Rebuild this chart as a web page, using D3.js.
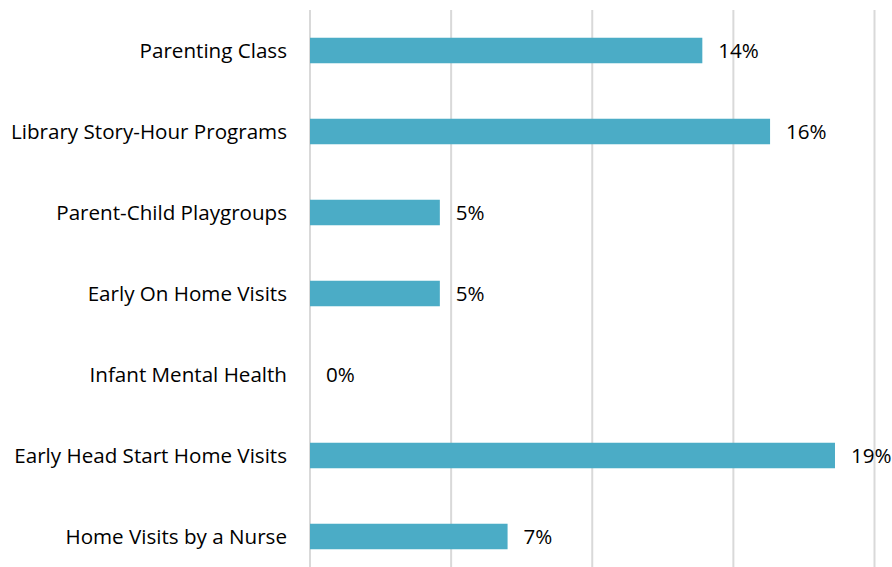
<!DOCTYPE html>
<html>
<head>
<meta charset="utf-8">
<script src="https://cdn.jsdelivr.net/npm/d3@7"></script>
<style>
  body { margin: 0; background: #fff; }
  text { font-family: "Open Sans", Lato, sans-serif; fill: #000; }
</style>
</head>
<body>
<div class="chart"></div>
<script>
const categories = [
    "Parenting Class",
    "Library Story-Hour Programs",
    "Parent-Child Playgroups",
    "Early On Home Visits",
    "Infant Mental Health",
    "Early Head Start Home Visits",
    "Home Visits by a Nurse"
];
const values = [0.139, 0.163, 0.046, 0.046, 0, 0.186, 0.070];
const gridTicks = [0, 0.05, 0.10, 0.15, 0.20];

const width = 892;
const height = 567;
const margin = {top: 10, left: 310};

const svg = d3.select(".chart")
    .append("svg")
    .attr("width", width)
    .attr("height", height);

const x = d3.scaleLinear()
    .domain([0, 0.20])
    .range([margin.left, 874.5]);

const y = d3.scaleBand()
    .domain(categories)
    .range([margin.top, margin.top + 81 * 7])
    .paddingInner(0.685)
    .paddingOuter(0.3425);

// gridlines
svg.selectAll("line.grid")
    .data(gridTicks)
    .enter()
    .append("line")
    .attr("class", "grid")
    .attr("x1", d => x(d))
    .attr("x2", d => x(d))
    .attr("y1", margin.top)
    .attr("y2", height)
    .attr("stroke", "#d9d9d9")
    .attr("stroke-width", 2);

// bars
svg.selectAll("rect")
    .data(values)
    .enter()
    .append("rect")
    .attr("x", x(0))
    .attr("y", (d, i) => y(categories[i]))
    .attr("width", d => x(d) - x(0))
    .attr("height", y.bandwidth())
    .attr("fill", "#4bacc6");

// category labels
svg.selectAll("text.cat")
    .data(categories)
    .enter()
    .append("text")
    .attr("class", "cat")
    .text(d => d)
    .attr("x", 287)
    .attr("y", d => y(d) + y.bandwidth() / 2)
    .attr("dy", "0.35em")
    .attr("text-anchor", "end")
    .attr("font-size", 20.6);

// value labels
svg.selectAll("text.val")
    .data(values)
    .enter()
    .append("text")
    .attr("class", "val")
    .text(d => d3.format(".0%")(d))
    .attr("x", d => x(d) + 16)
    .attr("y", (d, i) => y(categories[i]) + y.bandwidth() / 2)
    .attr("dy", "0.35em")
    .attr("font-size", 20.6);
</script>
</body>
</html>
